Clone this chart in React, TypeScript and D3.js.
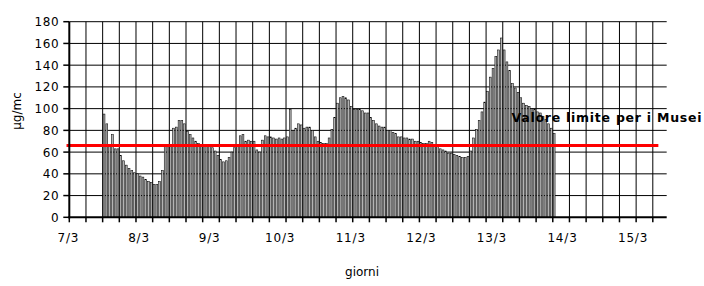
import { scaleLinear, range } from 'd3'

// hourly readings, category 0 = 7/3 00:00
const days = ['7/3', '8/3', '9/3', '10/3', '11/3', '12/3', '13/3', '14/3', '15/3']
const labelStep = 25.4 // categories between day labels, as spaced on the original axis
const totalHours = 215
const firstHour = 12
const values = [
  95, 86, 67, 76, 63, 63, 57, 52, 48, 45, 43, 41,
  40, 38, 37, 35, 33, 32, 30, 30, 33, 43, 65, 65,
  66, 82, 83, 89, 89, 86, 79, 76, 73, 70, 68, 65,
  65, 65, 66, 64, 61, 57, 53, 51, 52, 55, 60, 64,
  66, 75, 76, 70, 71, 70, 70, 62, 60, 71, 75, 74,
  74, 73, 72, 73, 72, 73, 74, 99, 80, 82, 86, 85,
  82, 83, 83, 80, 74, 70, 69, 68, 68, 73, 81, 92,
  105, 110, 111, 110, 108, 102, 99, 99, 99, 98, 96, 96,
  92, 89, 86, 84, 83, 83, 80, 80, 78, 77, 74, 74,
  73, 73, 72, 72, 70, 70, 69, 68, 68, 70, 69, 66,
  65, 63, 62, 61, 59, 59, 58, 57, 56, 55, 55, 56,
  61, 73, 81, 89, 97, 106, 116, 129, 137, 148, 154, 165,
  154, 143, 135, 123, 119, 115, 110, 105, 103, 102, 100, 99,
  97, 96, 93, 90, 86, 82, 77,
]
const yTicks = [0, 20, 40, 60, 80, 100, 120, 140, 160, 180]
const limitValue = 66
const limitSpan = [-1, 212]
const limitLabel = 'Valore limite per i Musei'
const tickEvery = 6

const W = 704
const H = 286
const left = 69.3
const right = 666.7
const top = 21.7
const bottom = 217.3
const font = '"DejaVu Sans", sans-serif'

export default function App() {
  const x = scaleLinear().domain([0, totalHours]).range([left, right])
  const y = scaleLinear().domain([0, 180]).range([bottom, top])
  const step = x(1) - x(0)
  const bw = step * 0.66
  const gridCats = range(0, totalHours, tickEvery)

  return (
    <svg width={W} height={H} style={{ position: 'absolute', left: 0, top: 0, background: '#fff' }}>
      {/* grid */}
      {yTicks.slice(1).map((t) => (
        <line key={'h' + t} x1={left} x2={right} y1={y(t)} y2={y(t)} stroke="#000" strokeWidth={1} />
      ))}
      {gridCats.slice(1).map((c) => (
        <line key={'v' + c} x1={x(c)} x2={x(c)} y1={top} y2={bottom} stroke="#000" strokeWidth={1} />
      ))}

      {/* bars */}
      {values.map((v, i) => {
        const c = firstHour + i
        return (
          <rect
            key={c}
            x={x(c) + (step - bw) / 2}
            y={y(v)}
            width={bw}
            height={bottom - y(v)}
            fill="#b4b4b4"
            stroke="#000"
            strokeWidth={0.55}
          />
        )
      })}

      {/* limit line */}
      <line x1={x(limitSpan[0])} x2={x(limitSpan[1])} y1={y(limitValue)} y2={y(limitValue)} stroke="#ff0000" strokeWidth={3} />
      <text x={511.5} y={121.5} fontFamily={font} fontWeight="bold" fontSize={12.5} textLength={190} lengthAdjust="spacing">
        {limitLabel}
      </text>

      {/* axes */}
      <line x1={left} x2={left} y1={top} y2={bottom + 1} stroke="#000" strokeWidth={2} />
      <line x1={left - 1} x2={right} y1={bottom} y2={bottom} stroke="#000" strokeWidth={2} />
      {yTicks.map((t) => (
        <g key={'yt' + t}>
          <line x1={left - 6} x2={left} y1={y(t)} y2={y(t)} stroke="#000" strokeWidth={1.5} />
          <text x={left - 10} y={y(t) + 4.5} textAnchor="end" fontFamily={font} fontSize={12} letterSpacing={0.6}>
            {t}
          </text>
        </g>
      ))}
      {gridCats.map((c) => (
        <line key={'xt' + c} x1={x(c)} x2={x(c)} y1={bottom} y2={bottom + 5} stroke="#000" strokeWidth={1.5} />
      ))}
      {days.map((d, i) => (
        <text
          key={d}
          x={x(i * labelStep - 0.3)}
          y={242}
          textAnchor="middle"
          fontFamily={font}
          fontSize={12}
          letterSpacing={0.8}
        >
          {d}
        </text>
      ))}

      <text x={(left + right) / 2 - 6} y={276} textAnchor="middle" fontFamily={font} fontSize={12}>
        giorni
      </text>
      <text
        transform={`translate(21, 111) rotate(-90)`}
        textAnchor="middle"
        fontFamily={font}
        fontSize={12}
      >
        µg/mc
      </text>
    </svg>
  )
}
